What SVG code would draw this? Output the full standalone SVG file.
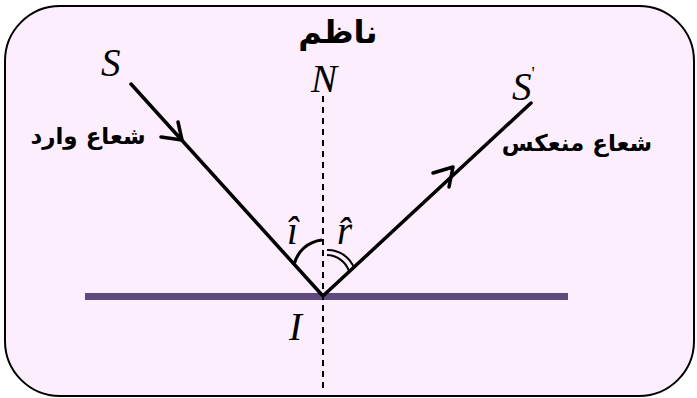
<svg xmlns="http://www.w3.org/2000/svg" width="697" height="398" viewBox="0 0 697 398">
<style>
.ray{stroke:#000;stroke-width:3.5;fill:none;stroke-linecap:round}
.arr{stroke:#000;stroke-width:3.5;fill:none;stroke-linecap:round;stroke-linejoin:round}
.arc{stroke:#000;stroke-width:3;fill:none}
.arc2{stroke:#000;stroke-width:2;fill:none}
.m{font-family:"Liberation Serif",serif;font-style:italic;font-size:39px;fill:#000}
.ar{font-family:"DejaVu Sans",sans-serif;font-size:23px;font-weight:bold;fill:#000}
</style>
<rect id="frame" x="5" y="6" width="689" height="390" rx="55" ry="55" fill="#FCEEFC" stroke="#000" stroke-width="2"/>
<g id="mirror"><line x1="85" y1="296.5" x2="568" y2="296.5" stroke="#5E4A7C" stroke-width="7"/></g>
<g id="normal"><line x1="323" y1="96" x2="323" y2="390" stroke="#000" stroke-width="2" stroke-dasharray="6,5"/></g>
<g id="connectors">
<line class="ray" x1="131" y1="84" x2="322" y2="295"/>
<polyline class="arr" points="161,137 182,140 178,122"/>
<line class="ray" x1="324" y1="295" x2="531" y2="103"/>
<polyline class="arr" points="433,173 453,167 449,187"/>
<path class="arc" d="M294,265 A32,32 0 0 1 322,240"/>
<path class="arc2" d="M327,250 A28,28 0 0 1 354,268"/>
<path class="arc2" d="M327,255 A24,24 0 0 1 349,271"/>
</g>
<g id="labels">
<text class="ar" x="338" y="43" text-anchor="middle" style="font-size:32px">ناظم</text>
<text class="m" x="101" y="76">S</text>
<text class="m" x="311" y="92">N</text>
<text class="m" x="512" y="100">S<tspan dy="-20" style="font-size:18px;font-style:normal">'</tspan></text>
<text class="m" x="289" y="340">I</text>
<text class="m" x="287" y="244">î</text>
<text class="m" x="337" y="244">r̂</text>
<text class="ar" x="88" y="144" text-anchor="middle">شعاع وارد</text>
<text class="ar" x="577" y="151" text-anchor="middle">شعاع منعكس</text>
</g>
</svg>
